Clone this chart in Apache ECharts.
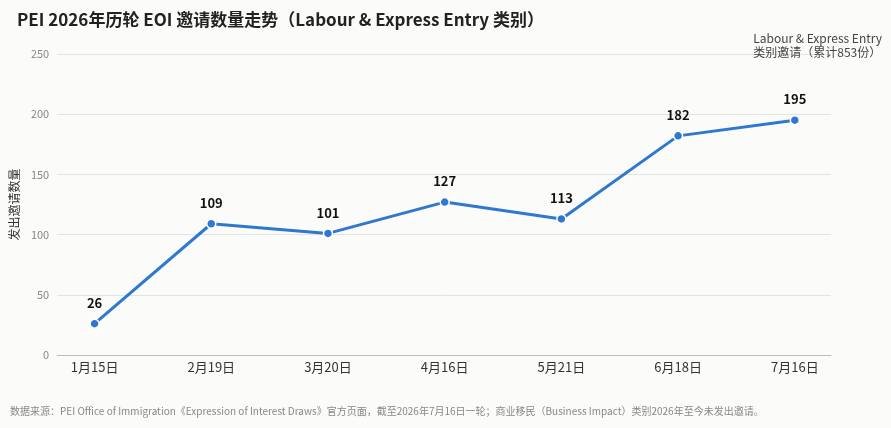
<!DOCTYPE html><html><head><meta charset="utf-8"><script src="https://cdn.jsdelivr.net/npm/echarts@6/dist/echarts.min.js"></script>
<style>html,body{margin:0;background:#fbfbf9}#c{width:891px;height:428px}</style></head><body><div id="c"></div><script>
const categories=['1月15日','2月19日','3月20日','4月16日','5月21日','6月18日','7月16日'];
const values=[26,109,101,127,113,182,195];
const seriesName='Labour & Express Entry\n类别邀请（累计853份）';
const F='"Noto Sans CJK SC","Noto Sans",sans-serif';
const c=echarts.init(document.getElementById('c'));
c.setOption({backgroundColor:'#fbfbf9',textStyle:{fontFamily:F},
title:{text:'PEI 2026年历轮 EOI 邀请数量走势（Labour & Express Entry 类别）',left:12,top:6,textStyle:{fontSize:17,fontWeight:'bold',color:'#222',fontFamily:F}},
legend:{right:4,top:26,itemWidth:0,itemHeight:0,icon:'none',textStyle:{fontSize:12,color:'#444',lineHeight:14,fontFamily:F},data:[seriesName]},
graphic:[{type:'text',left:10,top:406,style:{text:'数据来源：PEI Office of Immigration《Expression of Interest Draws》官方页面，截至2026年7月16日一轮；商业移民（Business Impact）类别2026年至今未发出邀请。',fill:'#888',font:'10px '+F}}],
grid:{left:55,right:60,top:54,bottom:73},
xAxis:{type:'value',min:-0.32,max:6.31,splitLine:{show:false},axisLine:{show:true,lineStyle:{color:'#bbb'}},axisTick:{show:false},
axisLabel:{customValues:[0,1,2,3,4,5,6],formatter:v=>categories[Math.round(v)],color:'#333',fontSize:13,margin:6}},
yAxis:{type:'value',min:0,max:250,interval:50,name:'发出邀请数量',nameLocation:'middle',nameGap:29,nameTextStyle:{color:'#333',fontSize:12},
axisLabel:{color:'#888',fontSize:11},splitLine:{lineStyle:{color:'#e3e3e3'}},axisLine:{show:false},axisTick:{show:false}},
series:[{name:seriesName,type:'line',data:values.map((v,i)=>[i,v]),color:'#2f78cf',lineStyle:{width:3,color:'#2f78cf'},symbol:'circle',symbolSize:9,
itemStyle:{color:'#2f78cf',borderColor:'#fff',borderWidth:1.5},label:{show:true,position:'top',distance:9,fontWeight:'bold',fontSize:13,color:'#111'}}]});
</script></body></html>
